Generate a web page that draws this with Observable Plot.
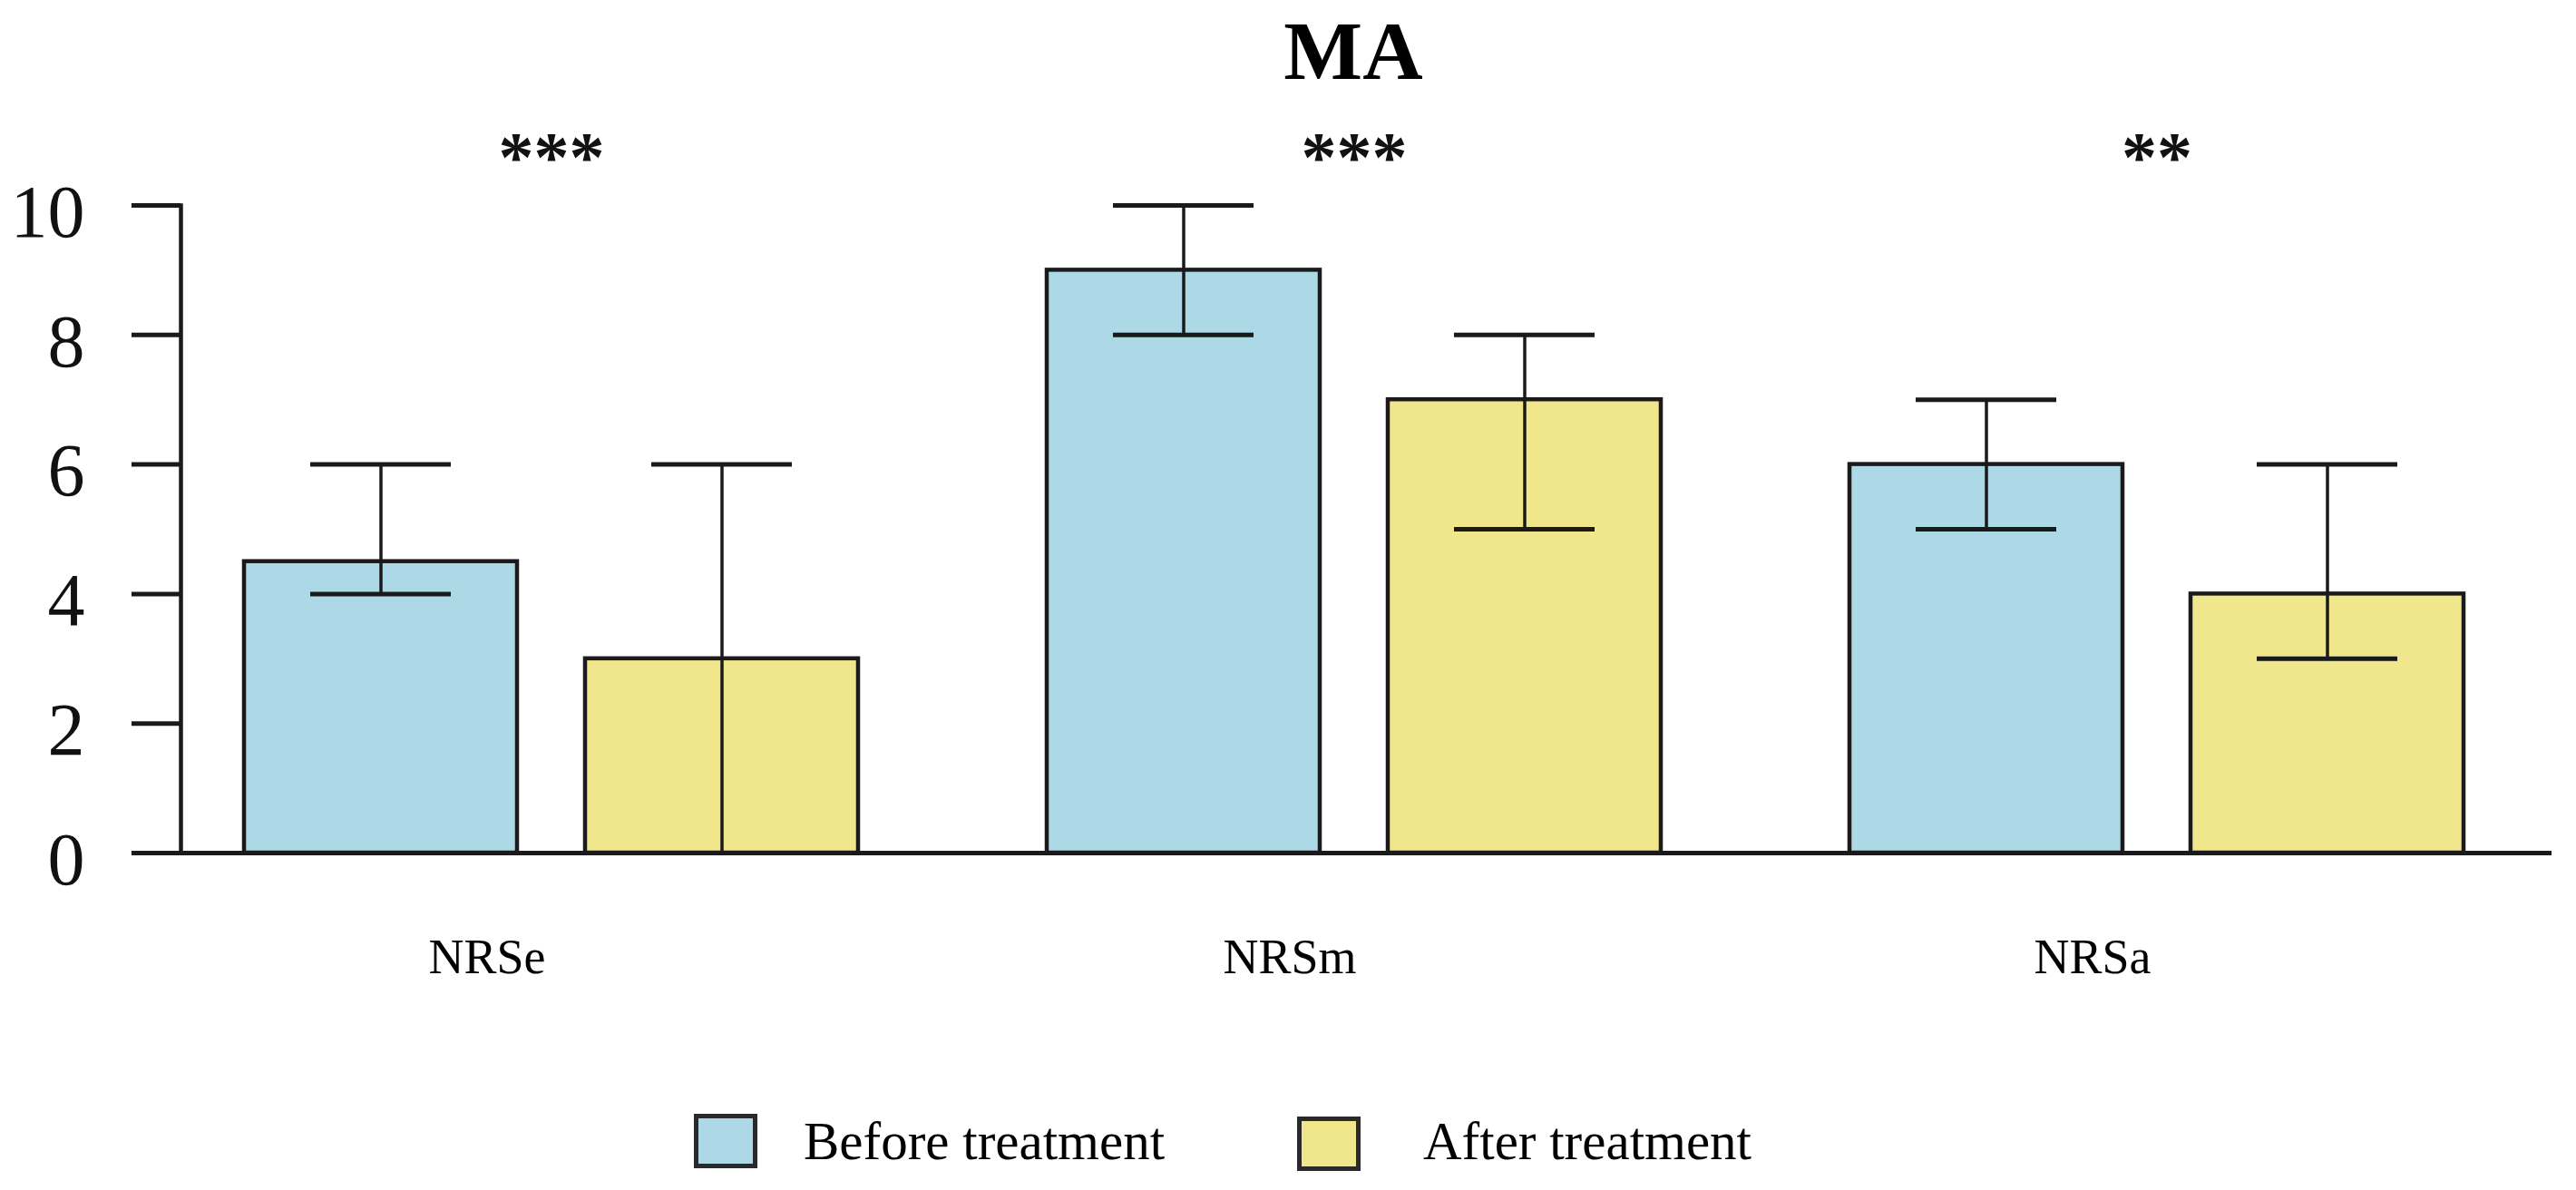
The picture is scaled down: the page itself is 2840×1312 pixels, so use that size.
<!DOCTYPE html>
<html>
<head>
<meta charset="utf-8">
<script src="https://cdn.jsdelivr.net/npm/d3@7"></script>
<script src="https://cdn.jsdelivr.net/npm/@observablehq/plot@0.6"></script>
<style>
  html, body { margin: 0; padding: 0; background: #fff; }
  body {
    width: 2840px; height: 1312px; overflow: hidden; position: relative;
    font-family: "Liberation Serif", "Times New Roman", serif; color: #111;
  }
  #title {
    width: 2840px; height: 110px; box-sizing: border-box;
    padding-left: 144px; padding-top: 2px;
    line-height: 108px; font-size: 92px; font-weight: bold;
    text-align: center; color: #000;
  }
  #chart svg { display: block; }
  #legend { position: absolute; left: 0; top: 1228px; width: 2840px; height: 62px; }
  .sw { position: absolute; top: 0; width: 70px; height: 60px; box-sizing: border-box; border: 5px solid #2a2a2a; }
  .lt { position: absolute; top: 0; height: 60px; line-height: 60px; font-size: 59px; color: #000; white-space: nowrap; }
</style>
</head>
<body>
<div id="title">MA</div>
<div id="chart"></div>
<div id="legend"></div>
<script>
// ---- data ----
const groups = ["NRSe", "NRSm", "NRSa"];
const seriesNames = ["Before treatment", "After treatment"];
const seriesColors = ["#ADD8E6", "#F0E68C"];
const beforeMean = [4.5, 9, 6];
const beforeLow  = [4, 8, 5];
const beforeHigh = [6, 10, 7];
const afterMean  = [3, 7, 4];
const afterLow   = [0, 5, 3];
const afterHigh  = [6, 8, 6];
const significance = ["***", "***", "**"];
const yTicks = [0, 2, 4, 6, 8, 10];

// ---- tables ----
const before = groups.map((g, i) => ({group: g, series: seriesNames[0], mean: beforeMean[i], low: beforeLow[i], high: beforeHigh[i]}));
const after  = groups.map((g, i) => ({group: g, series: seriesNames[1], mean: afterMean[i],  low: afterLow[i],  high: afterHigh[i]}));
const stars  = groups.map((g, i) => ({group: g, label: significance[i]}));
const lowCap = d => d.low > 0; // a cap on the baseline is hidden by the axis

// ---- layout (pixels) ----
const band = 678, barW = 302, capW = 156;
const inset = band - barW;            // bar inset within group band
const off = (band - barW) / 2;        // error bar offset from band centre
const capIn = (barW - capW) / 2;
const capOut = band - barW + capIn;
const ink = "#1a1a1a";

const chart = Plot.plot({
  width: 2840,
  height: 990,
  marginTop: 116,
  marginBottom: 160,
  marginLeft: 199,
  marginRight: 27,
  style: {fontFamily: '"Liberation Serif", "Times New Roman", serif', background: "transparent", color: "#111"},
  x: {domain: groups, paddingInner: 0.23476, paddingOuter: 0.09255, align: 0.4207, label: null},
  y: {domain: [0, 10], label: null},
  color: {domain: seriesNames, range: seriesColors},
  marks: [
    Plot.barY(before, {x: "group", y: "mean", fill: "series", stroke: ink, strokeWidth: 4.5, insetRight: inset}),
    Plot.barY(after,  {x: "group", y: "mean", fill: "series", stroke: ink, strokeWidth: 4.5, insetLeft: inset}),
    Plot.ruleX(before, {x: "group", y1: "low", y2: "high", dx: -off, stroke: ink, strokeWidth: 3.5}),
    Plot.ruleX(after,  {x: "group", y1: "low", y2: "high", dx: off,  stroke: ink, strokeWidth: 3.5}),
    Plot.tickY(before, {x: "group", y: "high", insetLeft: capIn,  insetRight: capOut, stroke: ink, strokeWidth: 5}),
    Plot.tickY(before, {filter: lowCap, x: "group", y: "low", insetLeft: capIn,  insetRight: capOut, stroke: ink, strokeWidth: 5}),
    Plot.tickY(after,  {x: "group", y: "high", insetLeft: capOut, insetRight: capIn,  stroke: ink, strokeWidth: 5}),
    Plot.tickY(after,  {filter: lowCap, x: "group", y: "low", insetLeft: capOut, insetRight: capIn,  stroke: ink, strokeWidth: 5}),
    Plot.text(stars, {x: "group", text: "label", frameAnchor: "top", lineAnchor: "middle", dy: -52, fontSize: 78, fontWeight: "bold", fill: "#111"}),
    Plot.frame({anchor: "left", stroke: ink, strokeWidth: 4.5}),
    Plot.ruleY([0], {stroke: ink, strokeWidth: 5}),
    Plot.axisY({ticks: yTicks, tickSize: 54, stroke: ink, strokeWidth: 5, tickFormat: () => ""}),
    Plot.axisY({ticks: yTicks, tickSize: 0, tickPadding: 106, dy: 8, fontSize: 82, fill: "#111"}),
    Plot.axisX({tickSize: 0, tickPadding: 94, dx: -71, fontSize: 54, fill: "#000"})
  ]
});
document.getElementById("chart").appendChild(chart);

// ---- legend ----
const legend = document.getElementById("legend");
const swatchLeft = [765, 1430];
const textLeft = [886, 1569];
seriesNames.forEach((name, i) => {
  const sw = document.createElement("div");
  sw.className = "sw";
  sw.style.left = swatchLeft[i] + "px";
  sw.style.top = (i * 3) + "px";
  sw.style.background = seriesColors[i];
  legend.appendChild(sw);
  const t = document.createElement("div");
  t.className = "lt";
  t.style.left = textLeft[i] + "px";
  t.textContent = name;
  legend.appendChild(t);
});
</script>
</body>
</html>
